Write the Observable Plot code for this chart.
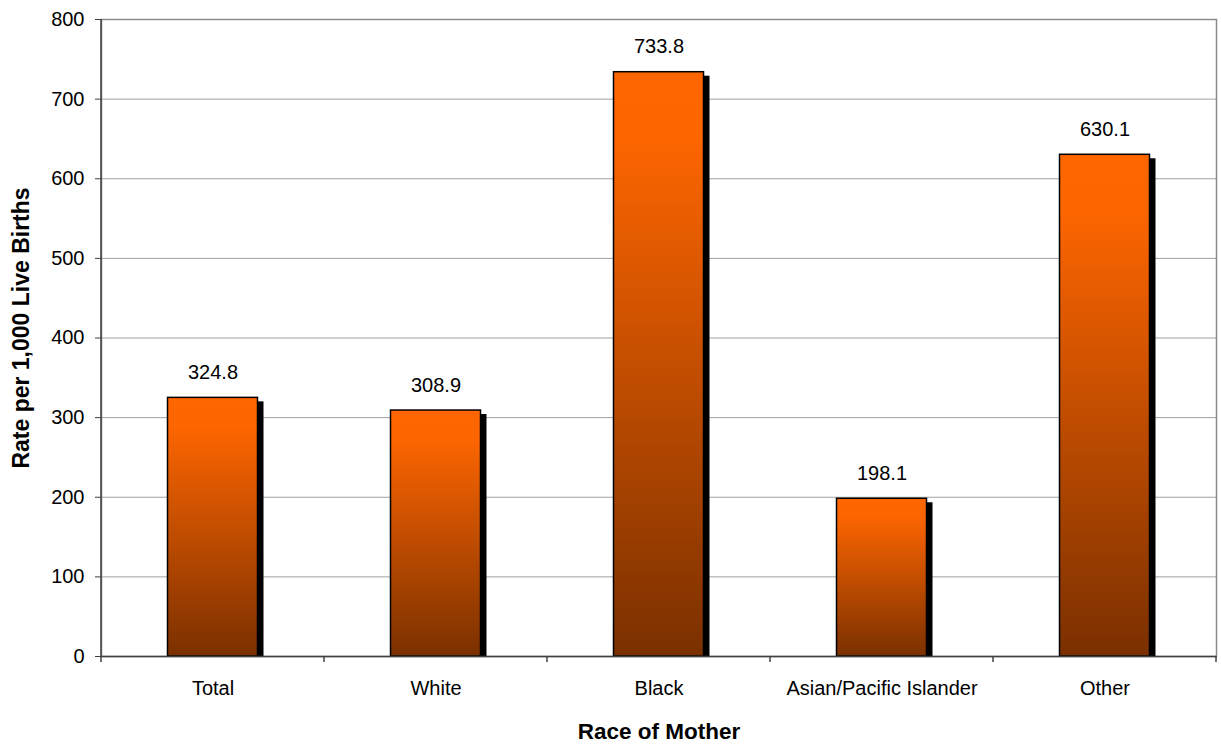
<!DOCTYPE html>
<html>
<head>
<meta charset="utf-8">
<script src="https://cdn.jsdelivr.net/npm/d3@7"></script>
<script src="https://cdn.jsdelivr.net/npm/@observablehq/plot@0.6"></script>
<style>
  body { margin: 0; background: #fff; }
  #chart svg { font-family: "Liberation Sans", Arial, sans-serif; }
</style>
</head>
<body>
<div id="chart"></div>
<script>
const categories = ["Total", "White", "Black", "Asian/Pacific Islander", "Other"];
const rates = [324.8, 308.9, 733.8, 198.1, 630.1];
const yTicks = [0, 100, 200, 300, 400, 500, 600, 700, 800];
const yLabel = "Rate per 1,000 Live Births";
const xLabel = "Race of Mother";

const data = categories.map((c, i) => ({race: c, rate: rates[i]}));

const gradientDefs = () => {
  const defs = d3.create("svg:defs");
  const lg = defs.append("linearGradient")
    .attr("id", "barGrad").attr("x1", 0).attr("y1", 0).attr("x2", 0).attr("y2", 1);
  lg.append("stop").attr("offset", "0%").attr("stop-color", "#FF6600");
  lg.append("stop").attr("offset", "12%").attr("stop-color", "#FC6500");
  lg.append("stop").attr("offset", "100%").attr("stop-color", "#7A3000");
  return defs.node();
};

const inset = 66.5;
const plot = Plot.plot({
  width: 1221,
  height: 745,
  marginLeft: 101,
  marginRight: 5,
  marginTop: 19,
  marginBottom: 89,
  style: {fontFamily: "'Liberation Sans', Arial, sans-serif", fontSize: "20px", color: "#000", background: "#fff"},
  x: {domain: categories, padding: 0, label: null},
  y: {domain: [0, 800], label: null},
  marks: [
    gradientDefs,
    Plot.gridY(yTicks, {stroke: "#a0a0a0", strokeOpacity: 1, strokeWidth: 1}),
    Plot.frame({stroke: "#8c8c8c", strokeWidth: 1.5}),
    Plot.barY(data, {x: "race", y: "rate", fill: "#000", dx: 6, dy: 4, insetLeft: inset, insetRight: inset, clip: true}),
    Plot.barY(data, {x: "race", y: "rate", fill: "url(#barGrad)", stroke: "#000", strokeWidth: 1.5, insetLeft: inset, insetRight: inset}),
    Plot.ruleY([0], {stroke: "#404040", strokeWidth: 1.5}),
    Plot.axisY(yTicks, {tickSize: 6, tickPadding: 11, fontSize: 20, stroke: "#404040", label: null}),
    Plot.axisX({tickSize: 0, tickPadding: 24, fontSize: 20, label: null}),
    Plot.text(data, {x: "race", y: "rate", text: d => d.rate.toFixed(1), lineAnchor: "bottom", dy: -19, fontSize: 20}),
    Plot.text([xLabel], {frameAnchor: "bottom", lineAnchor: "top", dy: 67, fontSize: 22.5, fontWeight: "bold"}),
    Plot.text([yLabel], {frameAnchor: "left", textAnchor: "middle", rotate: -90, dx: -80, dy: -10, lineAnchor: "middle", fontSize: 23, fontWeight: "bold"})
  ]
});

// axis line and boundary ticks from the library's scales
const xs = plot.scale("x");
const ys = plot.scale("y");
const svg = d3.select(plot);
const left = xs.range[0];
const yBottom = ys.apply(0);
const yTop = ys.apply(800);
const g = svg.append("g").attr("stroke", "#404040").attr("stroke-width", 1.5);
g.append("line").attr("x1", left).attr("x2", left).attr("y1", yTop).attr("y2", yBottom);
const bounds = categories.map(c => xs.apply(c)).concat([xs.apply(categories[categories.length - 1]) + xs.bandwidth]);
bounds.forEach(bx => {
  g.append("line").attr("x1", bx).attr("x2", bx).attr("y1", yBottom).attr("y2", yBottom + 6);
});

document.getElementById("chart").appendChild(plot);
</script>
</body>
</html>
